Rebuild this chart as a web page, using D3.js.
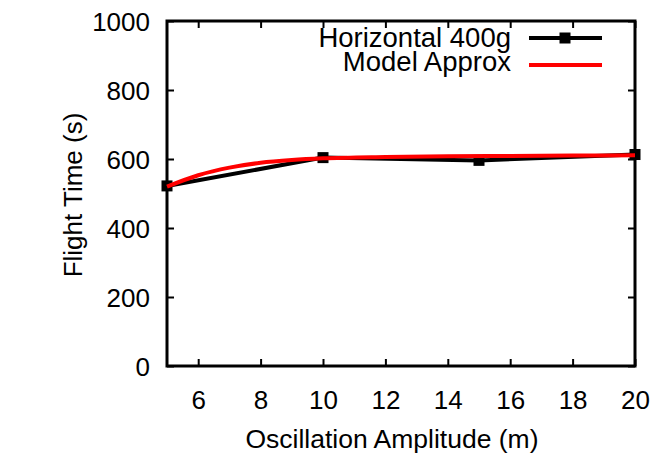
<!DOCTYPE html>
<html>
<head>
<meta charset="utf-8">
<script src="https://cdn.jsdelivr.net/npm/d3@7"></script>
<style>
  body { margin: 0; background: #fff; }
  svg text { font-family: "Liberation Sans", Arial, sans-serif; fill: #000; }
</style>
</head>
<body>
<div class="chart"></div>
<script>
var amplitude = [5, 10, 15, 20];
var flightTime = [522, 604, 596, 613];

var modelAmp = [5, 6, 7, 8, 9, 10, 12, 14, 16, 18, 20];
var modelTime = [520, 553, 575, 589, 597, 602, 606, 608, 609, 610, 611];

var xTicks = [6, 8, 10, 12, 14, 16, 18, 20];
var yTicks = [0, 200, 400, 600, 800, 1000];

var seriesNames = ["Horizontal 400g", "Model Approx"];

var svgWidth = 661;
var svgHeight = 454;
var margin = {top: 21, right: 26, bottom: 88, left: 167};

var chartWidth = svgWidth - margin.left - margin.right;
var chartHeight = svgHeight - margin.top - margin.bottom;

var svg = d3.select(".chart")
  .append("svg")
  .attr("width", svgWidth)
  .attr("height", svgHeight);

var chart = svg.append("g")
  .attr("transform", `translate(${margin.left},${margin.top})`);

var xScale = d3.scaleLinear().domain([5, 20]).range([0, chartWidth]);
var yScale = d3.scaleLinear().domain([0, 1000]).range([chartHeight, 0]);

// ticks (gnuplot style: inward, mirrored)
var tickLen = 7;
function styleAxis(g) {
  g.select(".domain").remove();
  g.selectAll(".tick line").attr("stroke", "#000").attr("stroke-width", 2);
  g.selectAll(".tick text").style("font-size", "26px");
}

chart.append("g")
  .attr("transform", `translate(0,${chartHeight})`)
  .call(d3.axisBottom(xScale).tickValues(xTicks).tickSizeInner(-tickLen).tickFormat(d3.format("d")))
  .call(styleAxis)
  .selectAll(".tick text").attr("dy", "0.71em").attr("y", 25);

chart.append("g")
  .call(d3.axisTop(xScale).tickValues(xTicks).tickSizeInner(-tickLen).tickFormat(""))
  .call(styleAxis);

chart.append("g")
  .call(d3.axisLeft(yScale).tickValues(yTicks).tickSizeInner(-tickLen).tickFormat(d3.format("d")))
  .call(styleAxis)
  .selectAll(".tick text").attr("x", -17).attr("dy", "0.36em");

chart.append("g")
  .attr("transform", `translate(${chartWidth},0)`)
  .call(d3.axisRight(yScale).tickValues(yTicks).tickSizeInner(-tickLen).tickFormat(""))
  .call(styleAxis);

// border
chart.append("rect")
  .attr("width", chartWidth)
  .attr("height", chartHeight)
  .attr("fill", "none")
  .attr("stroke", "#000")
  .attr("stroke-width", 3);

// measured line
var line = d3.line()
  .x(function(d) { return xScale(d[0]); })
  .y(function(d) { return yScale(d[1]); });

var measured = amplitude.map(function(a, i) { return [a, flightTime[i]]; });
var model = modelAmp.map(function(a, i) { return [a, modelTime[i]]; });

chart.append("path")
  .datum(measured)
  .attr("d", line)
  .attr("fill", "none")
  .attr("stroke", "#000")
  .attr("stroke-width", 4);

var markerSize = 11;
chart.selectAll(".pt")
  .data(measured)
  .enter()
  .append("rect")
  .attr("class", "pt")
  .attr("x", function(d) { return xScale(d[0]) - markerSize / 2; })
  .attr("y", function(d) { return yScale(d[1]) - markerSize / 2; })
  .attr("width", markerSize)
  .attr("height", markerSize)
  .attr("fill", "#000");

// model curve
chart.append("path")
  .datum(model)
  .attr("d", line.curve(d3.curveMonotoneX))
  .attr("fill", "none")
  .attr("stroke", "#ff0000")
  .attr("stroke-width", 4);

// legend
var legend = svg.append("g");
var rowY = [38, 62];

legend.selectAll("text")
  .data(seriesNames)
  .enter()
  .append("text")
  .attr("x", 511)
  .attr("y", function(d, i) { return rowY[i]; })
  .attr("dy", "0.34em")
  .attr("text-anchor", "end")
  .style("font-size", "27.5px")
  .text(function(d) { return d; });

legend.append("line")
  .attr("x1", 529).attr("x2", 602)
  .attr("y1", rowY[0]).attr("y2", rowY[0])
  .attr("stroke", "#000").attr("stroke-width", 4);
legend.append("rect")
  .attr("x", 565 - markerSize / 2).attr("y", rowY[0] - markerSize / 2)
  .attr("width", markerSize).attr("height", markerSize)
  .attr("fill", "#000");
legend.append("line")
  .attr("x1", 529).attr("x2", 602)
  .attr("y1", rowY[1] + 3).attr("y2", rowY[1] + 3)
  .attr("stroke", "#ff0000").attr("stroke-width", 4);

// axis titles
svg.append("text")
  .attr("x", margin.left + chartWidth / 2 - 9)
  .attr("y", 448)
  .attr("text-anchor", "middle")
  .style("font-size", "26.5px")
  .text("Oscillation Amplitude (m)");

svg.append("text")
  .attr("transform", "translate(82," + 195 + ") rotate(-90)")
  .attr("text-anchor", "middle")
  .style("font-size", "26px")
  .text("Flight Time (s)");
</script>
</body>
</html>
